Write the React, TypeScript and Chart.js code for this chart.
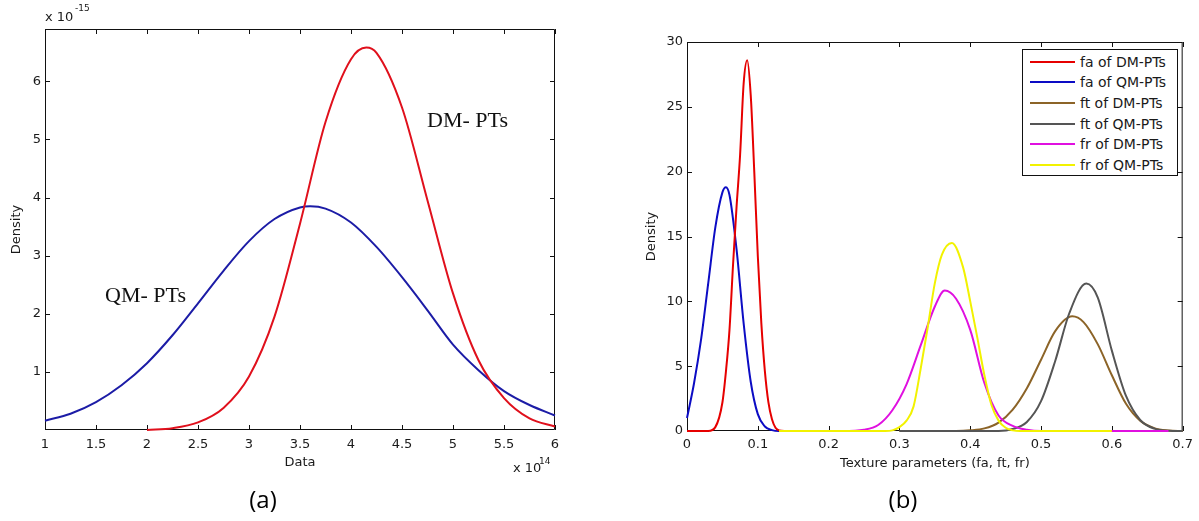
import React, { useEffect, useRef } from 'react';
import { Chart, registerables } from 'chart.js';

Chart.register(...registerables);

// ---------- Panel (a): x in units of 1e14, density in units of 1e-15 ----------
const qmX = [1, 1.25, 1.5, 1.75, 2, 2.25, 2.5, 2.75, 3, 3.25, 3.5, 3.6, 3.75, 4, 4.25, 4.5, 4.75, 5, 5.25, 5.5, 5.75, 6];
const qmY = [0.16, 0.28, 0.48, 0.77, 1.15, 1.63, 2.18, 2.74, 3.25, 3.63, 3.83, 3.85, 3.81, 3.57, 3.15, 2.63, 2.06, 1.47, 1.03, 0.67, 0.43, 0.25];
const dmX = [2, 2.25, 2.5, 2.75, 3, 3.25, 3.5, 3.75, 4, 4.15, 4.25, 4.5, 4.75, 5, 5.25, 5.5, 5.75, 6];
const dmY = [0, 0.03, 0.13, 0.38, 0.92, 1.95, 3.55, 5.3, 6.38, 6.58, 6.49, 5.55, 3.95, 2.35, 1.2, 0.55, 0.2, 0.06];
const xTicksA = [1, 1.5, 2, 2.5, 3, 3.5, 4, 4.5, 5, 5.5, 6];
const yTicksA = [1, 2, 3, 4, 5, 6];

// ---------- Panel (b) ----------
const faDmX = [0, 0.03, 0.04, 0.05, 0.055, 0.06, 0.065, 0.07, 0.075, 0.08, 0.085, 0.09, 0.095, 0.1, 0.105, 0.11, 0.115, 0.12, 0.125, 0.13, 0.14];
const faDmY = [0, 0, 0.3, 2.2, 4.6, 7.8, 12.8, 17.3, 21.3, 26.8, 28.6, 25.9, 20, 13.5, 8.3, 4.6, 2.2, 0.9, 0.25, 0.05, 0];
const faQmX = [0, 0.01, 0.02, 0.03, 0.04, 0.05, 0.055, 0.06, 0.07, 0.08, 0.09, 0.1, 0.11, 0.12, 0.13, 0.14];
const faQmY = [1.0, 3.7, 7.1, 11.4, 15.7, 18.4, 18.8, 18.2, 14.0, 8.3, 3.8, 1.3, 0.35, 0.07, 0, 0];
const ftDmX = [0.3, 0.38, 0.4, 0.42, 0.44, 0.46, 0.48, 0.5, 0.52, 0.544, 0.56, 0.58, 0.6, 0.62, 0.64, 0.66, 0.68, 0.7];
const ftDmY = [0, 0, 0.05, 0.2, 0.65, 1.65, 3.3, 5.5, 7.7, 8.84, 8.4, 6.7, 4.3, 2.1, 0.8, 0.22, 0.04, 0];
const ftQmX = [0.3, 0.44, 0.46, 0.48, 0.5, 0.52, 0.54, 0.564, 0.58, 0.6, 0.62, 0.64, 0.66, 0.68, 0.7];
const ftQmY = [0, 0, 0.15, 0.7, 2.3, 5.4, 9.1, 11.37, 10.3, 6.2, 2.7, 0.85, 0.18, 0.02, 0];
const frDmX = [0.13, 0.22, 0.25, 0.27, 0.29, 0.31, 0.33, 0.35, 0.364, 0.38, 0.4, 0.42, 0.44, 0.46, 0.48, 0.5, 0.68];
const frDmY = [0, 0, 0.1, 0.46, 1.6, 3.6, 6.6, 9.6, 10.83, 10.2, 7.8, 3.7, 1.2, 0.4, 0.1, 0, 0];
const frQmX = [0.13, 0.28, 0.29, 0.3, 0.31, 0.32, 0.33, 0.34, 0.35, 0.36, 0.374, 0.39, 0.4, 0.41, 0.42, 0.43, 0.44, 0.45, 0.46, 0.47, 0.6];
const frQmY = [0, 0, 0.05, 0.3, 0.8, 1.9, 4.8, 8.0, 11.4, 13.6, 14.5, 12.6, 10.0, 7.2, 4.3, 2.0, 0.8, 0.25, 0.05, 0, 0];
const xTicksB = [0, 0.1, 0.2, 0.3, 0.4, 0.5, 0.6, 0.7];
const yTicksB = [0, 5, 10, 15, 20, 25, 30];
const legendLabelsB = ['fa of DM-PTs', 'fa of QM-PTs', 'ft of DM-PTs', 'ft of QM-PTs', 'fr of DM-PTs', 'fr of QM-PTs'];

const COLORS_B = ['#e60000', '#0c0cc4', '#8c6428', '#555555', '#e010e0', '#f2f200'];

const pts = (xs: number[], ys: number[]) => xs.map((x, i) => ({ x, y: ys[i] }));

const FONT = "'DejaVu Sans', sans-serif";
const TXT = '#1a1a1a';

const framePlugin = {
  id: 'frame',
  beforeDatasetsDraw(chart: any) {
    const { ctx, chartArea: a, scales } = chart;
    const tl = 5;
    ctx.save();
    ctx.strokeStyle = '#111';
    ctx.lineWidth = 1;
    ctx.beginPath();
    ctx.rect(a.left + 0.5, a.top + 0.5, a.right - a.left - 1, a.bottom - a.top - 1);
    const xs = scales.x;
    xs.ticks.forEach((t: any) => {
      const p = Math.round(xs.getPixelForValue(t.value)) + 0.5;
      ctx.moveTo(p, a.bottom);
      ctx.lineTo(p, a.bottom - tl);
      ctx.moveTo(p, a.top);
      ctx.lineTo(p, a.top + tl);
    });
    const ys = scales.y;
    ys.ticks.forEach((t: any) => {
      const p = Math.round(ys.getPixelForValue(t.value)) + 0.5;
      ctx.moveTo(a.left, p);
      ctx.lineTo(a.left + tl, p);
      ctx.moveTo(a.right, p);
      ctx.lineTo(a.right - tl, p);
    });
    ctx.stroke();
    ctx.restore();
  },
};

function axis(opts: any) {
  const { min, max, ticks, fitKey, fitSize, title, titlePad, tickPad } = opts;
  return {
    type: 'linear',
    min,
    max,
    afterBuildTicks: (s: any) => {
      s.ticks = ticks.map((v: number) => ({ value: v }));
    },
    afterFit: (s: any) => {
      s[fitKey] = fitSize;
    },
    ticks: {
      autoSkip: false,
      maxRotation: 0,
      minRotation: 0,
      padding: tickPad,
      color: TXT,
      font: { family: FONT, size: 13 },
      callback: (v: any) => String(v),
    },
    grid: { display: false, drawTicks: false },
    border: { display: false },
    title: {
      display: true,
      text: title,
      color: TXT,
      font: { family: FONT, size: 13 },
      padding: titlePad,
    },
  };
}

const lineDs = (label: string, data: any[], color: string, order: number) => ({
  label,
  data,
  showLine: true,
  borderColor: color,
  backgroundColor: color,
  borderWidth: 2,
  pointRadius: 0,
  pointHoverRadius: 0,
  cubicInterpolationMode: 'monotone',
  fill: false,
  clip: 2,
  order,
});

export default function App() {
  const leftRef = useRef<HTMLCanvasElement>(null);
  const rightRef = useRef<HTMLCanvasElement>(null);

  useEffect(() => {
    const left = new Chart(leftRef.current as HTMLCanvasElement, {
      type: 'scatter',
      data: {
        datasets: [
          lineDs('DM- PTs', pts(dmX, dmY), '#e0101c', 0),
          lineDs('QM- PTs', pts(qmX, qmY), '#1c1ca6', 1),
        ],
      },
      options: {
        responsive: false,
        animation: false,
        devicePixelRatio: 1,
        layout: { padding: { left: 0, top: 29, right: 45, bottom: 0 } },
        plugins: { legend: { display: false }, tooltip: { enabled: false } },
        scales: {
          x: axis({ min: 1, max: 6, ticks: xTicksA, fitKey: 'height', fitSize: 91, title: 'Data', titlePad: { top: 0, bottom: 51 }, tickPad: 7 }),
          y: axis({ min: 0, max: 6.9, ticks: yTicksA, fitKey: 'width', fitSize: 45, title: 'Density', titlePad: { top: 9, bottom: 0 }, tickPad: 4 }),
        },
      } as any,
      plugins: [framePlugin],
    } as any);

    const right = new Chart(rightRef.current as HTMLCanvasElement, {
      type: 'scatter',
      data: {
        datasets: [
          lineDs(legendLabelsB[0], pts(faDmX, faDmY), COLORS_B[0], 4),
          lineDs(legendLabelsB[1], pts(faQmX, faQmY), COLORS_B[1], 5),
          lineDs(legendLabelsB[2], pts(ftDmX, ftDmY), COLORS_B[2], 3),
          lineDs(legendLabelsB[3], pts(ftQmX, ftQmY), COLORS_B[3], 2),
          lineDs(legendLabelsB[4], pts(frDmX, frDmY), COLORS_B[4], 1),
          lineDs(legendLabelsB[5], pts(frQmX, frQmY), COLORS_B[5], 0),
        ],
      },
      options: {
        responsive: false,
        animation: false,
        devicePixelRatio: 1,
        layout: { padding: { left: 0, top: 42, right: 16, bottom: 0 } },
        plugins: { legend: { display: false }, tooltip: { enabled: false } },
        scales: {
          x: axis({ min: 0, max: 0.7, ticks: xTicksB, fitKey: 'height', fitSize: 90, title: 'Texture parameters (fa, ft, fr)', titlePad: { top: 0, bottom: 50 }, tickPad: 6 }),
          y: axis({ min: 0, max: 30, ticks: yTicksB, fitKey: 'width', fitSize: 87, title: 'Density', titlePad: { top: 44, bottom: 0 }, tickPad: 4 }),
        },
      } as any,
      plugins: [framePlugin],
    } as any);

    return () => {
      left.destroy();
      right.destroy();
    };
  }, []);

  const abs = (left: number, top: number, size: number, family: string, extra: any = {}) => ({
    position: 'absolute' as const,
    left,
    top,
    fontSize: size,
    lineHeight: `${size}px`,
    fontFamily: family,
    color: TXT,
    whiteSpace: 'nowrap' as const,
    ...extra,
  });

  const SERIF = "'Liberation Serif', 'Times New Roman', serif";
  const CAP = "'Open Sans', sans-serif";

  return (
    <div style={{ position: 'fixed', left: 0, top: 0, width: 1199, height: 521, background: '#fff', overflow: 'hidden' }}>
      <canvas ref={leftRef} width={600} height={521} style={{ position: 'absolute', left: 0, top: 0 }} />
      <canvas ref={rightRef} width={599} height={521} style={{ position: 'absolute', left: 600, top: 0 }} />

      {/* panel (a) multipliers */}
      <span style={abs(45, 10, 13, FONT)}>x 10</span>
      <span style={abs(75, 4, 9, FONT)}>-15</span>
      <span style={abs(513, 461, 13, FONT)}>x 10</span>
      <span style={abs(539, 457, 9, FONT)}>14</span>

      {/* curve annotations */}
      <span style={abs(427, 109, 22, SERIF, { color: '#111' })}>DM- PTs</span>
      <span style={abs(105, 284, 22, SERIF, { color: '#111' })}>QM- PTs</span>

      {/* panel captions */}
      <div style={abs(213, 487, 24, CAP, { width: 100, textAlign: 'center', color: '#000' })}>(a)</div>
      <div style={abs(853, 487, 24, CAP, { width: 100, textAlign: 'center', color: '#000' })}>(b)</div>

      {/* legend of panel (b) */}
      <div
        style={{
          position: 'absolute',
          left: 1022,
          top: 49,
          width: 156,
          height: 127,
          border: '1px solid #111',
          background: '#fff',
          boxSizing: 'border-box',
        }}
      />
      {legendLabelsB.map((lab, i) => {
        const cy = 61.7 + i * 20.6;
        return (
          <React.Fragment key={lab}>
            <div style={{ position: 'absolute', left: 1030, top: cy - 1, width: 45, height: 2, background: COLORS_B[i] }} />
            <span style={abs(1080, cy - 7, 14, FONT)}>{lab}</span>
          </React.Fragment>
        );
      })}
    </div>
  );
}
